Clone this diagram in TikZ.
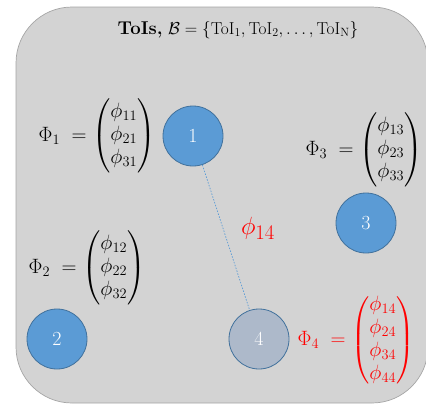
\documentclass[tikz,border=0pt]{standalone}
\usepackage{amsmath}
\usetikzlibrary{calc}
\definecolor{bgfill}{HTML}{D3D3D3}
\definecolor{bgline}{HTML}{A5A5A5}
\definecolor{nodeblue}{HTML}{5B9BD5}
\definecolor{nodeline}{HTML}{41719C}
\definecolor{nodegray}{HTML}{ADB9CA}
\tikzset{
  toi/.style={circle, draw=nodeline, line width=0.8pt, fill=nodeblue, minimum size=60pt, inner sep=0pt, text=white, font=\fontsize{20}{24}\selectfont},
  toigray/.style={toi, fill=nodegray},
  eqn/.style={inner sep=0pt, font=\fontsize{20}{23}\selectfont},
  link/.style={draw=nodeblue, line width=0.7pt, dash pattern=on 1.5pt off 1.5pt}
}
\begin{document}
\begin{tikzpicture}[x=1pt,y=-1pt]
\useasboundingbox (0,0) rectangle (426,405);
\begin{scope}
\clip (0,0) rectangle (426,405);
\draw[fill=bgfill, draw=bgline, line width=0.7pt, rounded corners=56pt] (16,7) rectangle (428,403);
\end{scope}
\node[inner sep=0pt, font=\fontsize{18.5}{22}\selectfont] (title) at (238,30) {\textbf{ToIs,} $\mathcal{B}=\{\mathrm{ToI}_1,\mathrm{ToI}_2,\ldots,\mathrm{ToI}_{\mathrm{N}}\}$};
\node[toi] (n1) at (193,136) {1};
\node[toi] (n2) at (57,339) {2};
\node[toi] (n3) at (366,223) {3};
\node[toigray] (n4) at (259,339) {4};
\draw[link] (n1) -- (n4);
\node[eqn, text=red, font=\fontsize{30}{34}\selectfont] (l14) at (258,228) {$\phi_{14}$};
\node[eqn] (e1) at (97,136) {$\Phi_1\;=\begin{pmatrix}\phi_{11}\\ \phi_{21}\\ \phi_{31}\end{pmatrix}$};
\node[eqn] (e3) at (364,150) {$\Phi_3\;=\begin{pmatrix}\phi_{13}\\ \phi_{23}\\ \phi_{33}\end{pmatrix}$};
\node[eqn] (e2) at (87,268) {$\Phi_2\;=\begin{pmatrix}\phi_{12}\\ \phi_{22}\\ \phi_{32}\end{pmatrix}$};
\node[eqn, text=red] (e4) at (356,340) {$\Phi_4\;=\begin{pmatrix}\phi_{14}\\ \phi_{24}\\ \phi_{34}\\ \phi_{44}\end{pmatrix}$};
\end{tikzpicture}
\end{document}
